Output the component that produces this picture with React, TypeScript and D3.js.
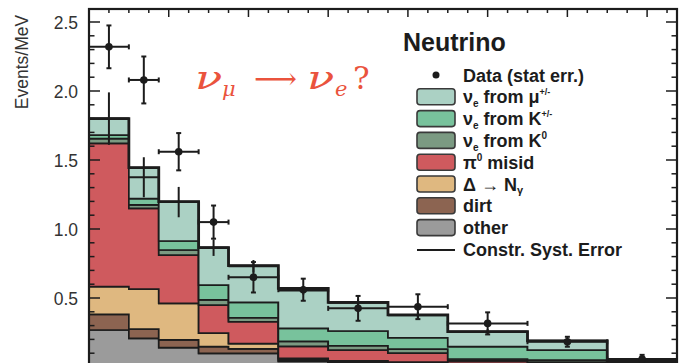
import React from 'react';
import * as d3 from 'd3';

// Bin edges in MeV (reconstructed neutrino energy)
const binEdges = [200, 300, 375, 475, 550, 675, 800, 950, 1100, 1300, 1500, 1675];

// Stacked background components (Events/MeV), bottom to top
const otherV = [0.268, 0.208, 0.14, 0.099, 0.099, 0.04, 0.025, 0.02, 0.015, 0.01, 0.005];
const dirtV = [0.114, 0.067, 0.056, 0.048, 0.033, 0.012, 0.01, 0.008, 0.006, 0.004, 0.002];
const deltaV = [0.2, 0.29, 0.265, 0.099, 0.038, 0.011, 0.01, 0.007, 0.005, 0.004, 0.002];
const pi0V = [1.038, 0.585, 0.349, 0.203, 0.158, 0.087, 0.078, 0.065, 0.019, 0.017, 0.006];
const k0V = [0.035, 0.025, 0.038, 0.037, 0.029, 0.035, 0.031, 0.03, 0.013, 0.015, 0.005];
const kpmV = [0.025, 0.045, 0.065, 0.108, 0.111, 0.095, 0.107, 0.082, 0.089, 0.073, 0.01];
const muV = [0.12, 0.225, 0.285, 0.271, 0.266, 0.29, 0.208, 0.165, 0.109, 0.067, 0.01];

// Data with statistical errors
const dataV = [2.32, 2.08, 1.56, 1.05, 0.65, 0.56, 0.425, 0.437, 0.316, 0.183, 0.058];
const dataErr = [0.155, 0.17, 0.135, 0.12, 0.11, 0.08, 0.09, 0.09, 0.08, 0.036, 0.03];

// Constrained prediction with systematic error
const constrV = [1.8, 1.375, 1.195, 0.865, 0.73, 0.555, 0.465, 0.375, 0.255, 0.19, 0.04];
const constrErr = [0.19, 0.145, 0.11, 0.06, 0.045, 0.03, 0.03, 0.025, 0.02, 0.015, 0.01];

const yTickVals = [0.5, 1.0, 1.5, 2.0, 2.5];
const yTickLabels = ['0.5', '1.0', '1.5', '2.0', '2.5'];

const seriesKeys = ['other', 'dirt', 'delta', 'pi0', 'k0', 'kpm', 'mu'];
const seriesColors: Record<string, string> = {
  mu: '#abd1c4',
  kpm: '#78c29c',
  k0: '#7b9a82',
  pi0: '#cf5a5e',
  delta: '#dfb880',
  dirt: '#8c6451',
  other: '#9b9b9b',
};

const W = 682;
const H = 363;
const FONT = '"Liberation Sans", Arial, Helvetica, sans-serif';
const SERIF = '"DejaVu Serif", "Liberation Serif", serif';
const INK = '#1c1c1c';
const ANN = '#ea533d';

export default function App() {
  const x = d3.scaleLinear().domain([200, 1675]).range([89, 677]);
  const y = d3.scaleLinear().domain([0, 2.6]).range([367, 8.2]);
  const n = binEdges.length - 1;

  const rows = d3.range(n).map((i) => ({
    other: otherV[i],
    dirt: dirtV[i],
    delta: deltaV[i],
    pi0: pi0V[i],
    k0: k0V[i],
    kpm: kpmV[i],
    mu: muV[i],
  }));
  const stacked = d3.stack<any>().keys(seriesKeys)(rows);

  const area = d3
    .area<any>()
    .x((d) => x(d.e))
    .y0((d) => y(d.y0))
    .y1((d) => y(d.y1))
    .curve(d3.curveStepAfter);

  const topLine = d3
    .line<any>()
    .x((d) => x(d.e))
    .y((d) => y(d.v))
    .curve(d3.curveStepAfter);

  const layerPts = (layer: any) =>
    binEdges.map((e, i) => {
      const j = Math.min(i, n - 1);
      return { e, y0: layer[j][0], y1: layer[j][1] };
    });

  const totalTop = stacked[stacked.length - 1];
  const totalPts = binEdges.map((e, i) => ({ e, v: totalTop[Math.min(i, n - 1)][1] }));

  const centers = d3.range(n).map((i) => (binEdges[i] + binEdges[i + 1]) / 2);

  const minorY = d3.range(1, 26).map((i) => i / 10);
  const topTicks = d3.range(250, 1675, 50);

  const legendX = 417;
  const textX = 463;
  const base0 = 81.5;
  const rowH = 21.8;
  const fs = 18;

  const legendBoxes = [
    { key: 'mu', row: 1 },
    { key: 'kpm', row: 2 },
    { key: 'k0', row: 3 },
    { key: 'pi0', row: 4 },
    { key: 'delta', row: 5 },
    { key: 'dirt', row: 6 },
    { key: 'other', row: 7 },
  ];

  const bl = (r: number) => base0 + rowH * r;

  return (
    <svg
      width={W}
      height={H}
      style={{ position: 'absolute', left: 0, top: 0, background: '#fff' }}
      fontFamily={FONT}
    >
      <defs>
        <clipPath id="plotclip">
          <rect x={89} y={8} width={588} height={H - 8} />
        </clipPath>
      </defs>
      <rect x={0} y={0} width={W} height={H} fill="#fff" />

      <g clipPath="url(#plotclip)">
        {stacked.map((layer: any) => (
          <path
            key={layer.key}
            d={area(layerPts(layer)) || ''}
            fill={seriesColors[layer.key]}
            stroke={INK}
            strokeWidth={1.7}
            strokeLinejoin="miter"
          />
        ))}
        <path d={topLine(totalPts) || ''} fill="none" stroke={INK} strokeWidth={2.8} />

        {/* constrained prediction with systematic error */}
        {constrV.map((v, i) => (
          <g key={'c' + i} stroke={INK} strokeWidth={2}>
            <line x1={x(binEdges[i])} x2={x(binEdges[i + 1])} y1={y(v)} y2={y(v)} />
            <line x1={x(centers[i])} x2={x(centers[i])} y1={y(v - constrErr[i])} y2={y(v + constrErr[i])} />
          </g>
        ))}

        {/* data points */}
        {dataV.map((v, i) => {
          const cx = x(centers[i]);
          const cy = y(v);
          const x0 = x(binEdges[i]);
          const x1 = x(binEdges[i + 1]);
          const yt = y(v + dataErr[i]);
          const yb = y(v - dataErr[i]);
          return (
            <g key={'d' + i} stroke={INK} strokeWidth={2}>
              <line x1={x0} x2={x1} y1={cy} y2={cy} />
              <line x1={cx} x2={cx} y1={yt} y2={yb} />
              <line x1={cx - 2.5} x2={cx + 2.5} y1={yt} y2={yt} />
              <line x1={cx - 2.5} x2={cx + 2.5} y1={yb} y2={yb} />
              <line x1={x0} x2={x0} y1={cy - 2.5} y2={cy + 2.5} />
              <line x1={x1} x2={x1} y1={cy - 2.5} y2={cy + 2.5} />
              <circle cx={cx} cy={cy} r={3.8} fill={INK} stroke="none" />
            </g>
          );
        })}
      </g>

      {/* axis ticks */}
      <g stroke={INK} strokeWidth={1.5}>
        {minorY.map((v) => {
          const major = Math.abs(v * 2 - Math.round(v * 2)) < 1e-6;
          const len = major ? 11 : 5.5;
          return (
            <g key={'yt' + v}>
              <line x1={89} x2={89 + len} y1={y(v)} y2={y(v)} />
              <line x1={677 - len} x2={677} y1={y(v)} y2={y(v)} />
            </g>
          );
        })}
        {topTicks.map((t) => {
          const major = t % 200 === 0;
          const len = major ? 8 : 4;
          return <line key={'xt' + t} x1={x(t)} x2={x(t)} y1={9} y2={9 + len} />;
        })}
      </g>

      {/* frame */}
      <rect x={89} y={9} width={588} height={H + 20} fill="none" stroke={INK} strokeWidth={2.2} />

      {/* y tick labels */}
      {yTickVals.map((v, i) => (
        <text key={'yl' + v} x={78} y={y(v) + 6.5} textAnchor="end" fontSize={17.5} fill="#333">
          {yTickLabels[i]}
        </text>
      ))}

      {/* y axis title */}
      <text
        transform="translate(27.5,62) rotate(-90)"
        textAnchor="middle"
        fontSize={17.5}
        fill="#333"
      >
        Events/MeV
      </text>

      {/* annotation: nu_mu -> nu_e ? */}
      <g fontFamily={SERIF} fill={ANN}>
        <text transform="translate(195,89) scale(1.45,1)" fontSize={31} fontStyle="italic">ν</text>
        <text x={222} y={96} fontSize={21} fontStyle="italic">μ</text>
        <text x={254} y={89} fontSize={30}>⟶</text>
        <text transform="translate(307,89) scale(1.45,1)" fontSize={31} fontStyle="italic">ν</text>
        <text x={335} y={96} fontSize={21} fontStyle="italic">e</text>
        <text x={353} y={89} fontSize={31}>?</text>
      </g>

      {/* legend */}
      <text x={403} y={51} fontSize={25} fontWeight="bold" fill={INK}>
        Neutrino
      </text>
      <circle cx={436} cy={bl(0) - 6.5} r={3.5} fill={INK} />
      <text x={textX} y={bl(0)} fontSize={fs} fontWeight="bold" fill={INK}>
        Data (stat err.)
      </text>
      {legendBoxes.map((b) => (
        <rect
          key={'lb' + b.key}
          x={legendX}
          y={bl(b.row) - 14.5}
          width={38}
          height={16}
          rx={3}
          fill={seriesColors[b.key]}
          stroke="#3a3a3a"
          strokeWidth={1.6}
        />
      ))}
      <g fontSize={fs} fontWeight="bold" fill={INK}>
        <text x={textX} y={bl(1)}>
          <tspan>ν</tspan>
          <tspan fontSize={10} dy={4}>e</tspan>
          <tspan dy={-4}> from μ</tspan>
          <tspan fontSize={9} dy={-8}>+/-</tspan>
        </text>
        <text x={textX} y={bl(2)}>
          <tspan>ν</tspan>
          <tspan fontSize={10} dy={4}>e</tspan>
          <tspan dy={-4}> from K</tspan>
          <tspan fontSize={9} dy={-8}>+/-</tspan>
        </text>
        <text x={textX} y={bl(3)}>
          <tspan>ν</tspan>
          <tspan fontSize={10} dy={4}>e</tspan>
          <tspan dy={-4}> from K</tspan>
          <tspan fontSize={10} dy={-8}>0</tspan>
        </text>
        <text x={textX} y={bl(4)}>
          <tspan>π</tspan>
          <tspan fontSize={10} dy={-8}>0</tspan>
          <tspan dy={8}> misid</tspan>
        </text>
        <text x={textX} y={bl(5)}>
          <tspan>Δ → N</tspan>
          <tspan fontSize={11} dy={3}>γ</tspan>
        </text>
        <text x={textX} y={bl(6)}>dirt</text>
        <text x={textX} y={bl(7)}>other</text>
        <text x={textX} y={bl(8)}>Constr. Syst. Error</text>
      </g>
      <line x1={legendX} x2={legendX + 38} y1={bl(8) - 6} y2={bl(8) - 6} stroke={INK} strokeWidth={2} />
    </svg>
  );
}
